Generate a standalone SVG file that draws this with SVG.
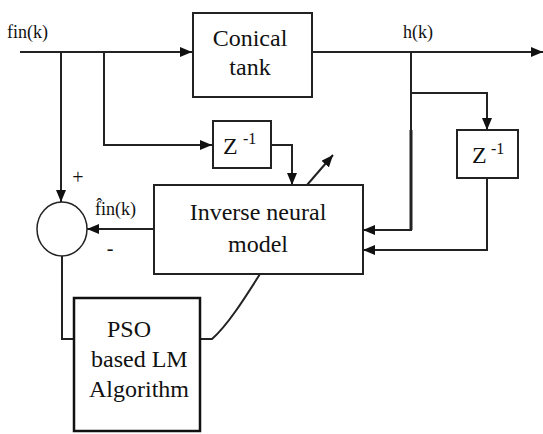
<svg xmlns="http://www.w3.org/2000/svg" width="543" height="434" viewBox="0 0 543 434">
<defs>
<marker id="ah" viewBox="0 0 12 10" refX="12" refY="5" markerWidth="12" markerHeight="10" markerUnits="userSpaceOnUse" orient="auto"><path d="M0,0 L12,5 L0,10 z" fill="#111"/></marker>
<style>
.box{fill:#fff;stroke:#222;stroke-width:2}
.t{fill:#111}
.big{font-size:24px}
.sm{font-size:18px}
.sup{font-size:16px}
.c{fill:none;stroke:#222;stroke-width:2}
.a{marker-end:url(#ah)}
</style>
</defs>
<rect width="543" height="434" fill="#fff"/>
<g id="connectors">
<path class="c a" d="M20,52 H192"/>
<path class="c a" d="M61,52 V202"/>
<path class="c a" d="M104,52 V145 H212"/>
<path class="c a" d="M271,145 H292 V185"/>
<path class="c a" d="M307,185 L333,155"/>
<path class="c a" d="M312,52 H543"/>
<path class="c a" d="M411,52 V230 H363"/>
<path class="c" d="M411,130 V230" style="stroke-width:3"/>
<path class="c a" d="M411,93 H487 V130"/>
<path class="c a" d="M487,178 V250 H363"/>
<path class="c a" d="M154,229 H87"/>
<path class="c" d="M62,256 V339 H74"/>
<path class="c" d="M200,339 H212 C228,325 246,296 260,274"/>
</g>
<g font-family="'Liberation Serif', 'DejaVu Serif', serif">
<g id="conical-tank">
<rect class="box" x="193" y="13" width="119" height="84"/>
<text class="t big" x="250" y="46" text-anchor="middle">Conical</text>
<text class="t big" x="250" y="75" text-anchor="middle">tank</text>
</g>
<g id="delay1">
<rect class="box" x="213" y="121" width="58" height="47"/>
<text class="t big" x="223" y="154">Z</text>
<text class="t sup" x="243" y="144">-1</text>
</g>
<g id="delay2">
<rect class="box" x="457" y="130" width="61" height="48"/>
<text class="t big" x="472" y="163">Z</text>
<text class="t sup" x="491" y="154">-1</text>
</g>
<g id="inverse-model">
<rect class="box" x="154" y="185" width="209" height="89"/>
<text class="t big" x="258" y="220" text-anchor="middle">Inverse neural</text>
<text class="t big" x="258" y="252" text-anchor="middle">model</text>
</g>
<g id="summer">
<ellipse cx="62" cy="229" rx="25" ry="27" fill="#fff" stroke="#222" stroke-width="1.5"/>
<text class="t" font-size="20" x="78" y="184" text-anchor="middle">+</text>
<text class="t" font-size="20" x="110" y="255" text-anchor="middle">-</text>
</g>
<g id="pso">
<rect x="74" y="298" width="126" height="133" fill="#fff" stroke="#111" stroke-width="2.5"/>
<text class="t big" x="107" y="337">PSO</text>
<text class="t big" x="91" y="367">based LM</text>
<text class="t big" x="89" y="397">Algorithm</text>
</g>
<g id="labels">
<text class="t sm" x="7" y="38">fin(k)</text>
<text class="t sm" x="403" y="38">h(k)</text>
<text class="t sm" x="95" y="215">f̂in(k)</text>
</g>
</g>
</svg>
